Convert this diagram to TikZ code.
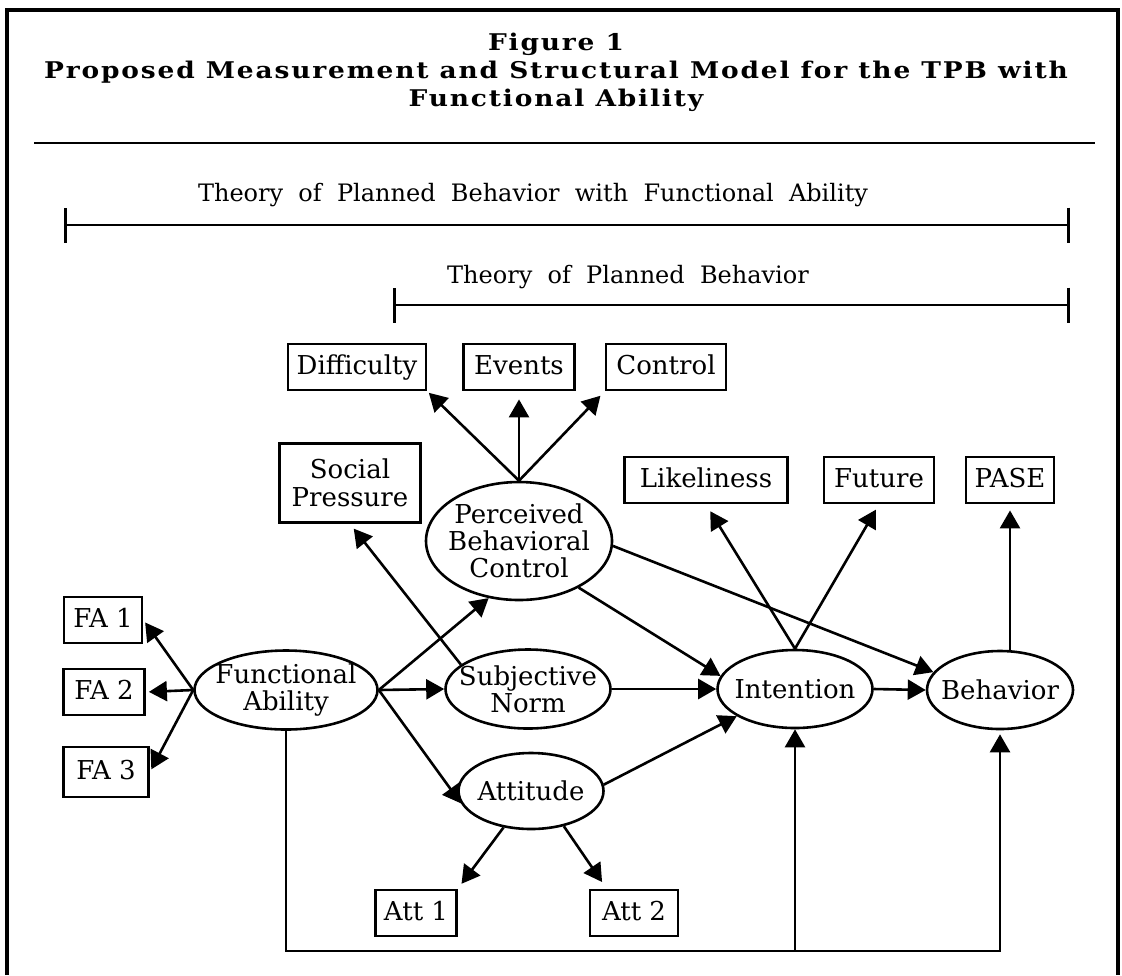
\documentclass[tikz,border=0pt]{standalone}
\usepackage{fontspec}
\setmainfont{DejaVu Serif}
\newfontfamily\titlefont[LetterSpace=8,FakeStretch=1.15]{DejaVu Serif}
\newfontfamily\spanfont[WordSpace=2]{DejaVu Serif}
\usetikzlibrary{arrows.meta,shapes.geometric}
\begin{document}
\begin{tikzpicture}[x=0.5pt,y=-0.5pt,
    latent/.style={draw,ellipse,line width=1.3pt,inner xsep=-6pt,inner ysep=-4pt,align=center,
      font=\fontsize{13}{13.5}\selectfont},
    indicator/.style={draw,rectangle,line width=1.4pt,minimum height=23pt,inner sep=0pt,
      text height=9.5pt,text depth=2.5pt,align=center,font=\fontsize{13}{14}\selectfont},
    link/.style={-{Triangle[length=9pt,width=10pt]},line width=1.3pt},
    span/.style={{Bar[width=17.5pt]}-{Bar[width=17.5pt]},line width=1.3pt}]
  \useasboundingbox (0,0) rectangle (1122,975);
  \draw[line width=2.2pt] (7,975) |- (1118,10) -- (1118,975);
  \node[font=\titlefont\bfseries\fontsize{11.5}{14}\selectfont,align=center] (title) at (556,72)
    {Figure 1\\Proposed Measurement and Structural Model for the TPB with\\Functional Ability};
  \coordinate (ruleL) at (34,143);
  \coordinate (ruleR) at (1095,143);
  \draw[line width=1.4pt] (ruleL) -- (ruleR);
  % spans
  \node[font=\spanfont\fontsize{12}{13.5}\selectfont] (fulltxt) at (533,195) {Theory of Planned Behavior with Functional Ability};
  \coordinate (fullL) at (64,225);
  \coordinate (fullR) at (1070,225);
  \draw[span] (fullL) -- (fullR);
  \node[font=\spanfont\fontsize{12}{13.5}\selectfont] (tpbtxt) at (628,277) {Theory of Planned Behavior};
  \coordinate (tpbL) at (393,305);
  \coordinate (tpbR) at (1070,305);
  \draw[span] (tpbL) -- (tpbR);
  % indicators
  \node[indicator,minimum width=69pt] (diff) at (357,367) {Difficulty};
  \node[indicator,minimum width=55.5pt] (evt) at (519,367) {Events};
  \node[indicator,minimum width=60pt] (ctl) at (666,367) {Control};
  \node[indicator,minimum width=70.5pt,minimum height=39.5pt,text height=,text depth=] (sp) at (350,483) {Social\\Pressure};
  \node[indicator,minimum width=81.5pt] (lik) at (706,480) {Likeliness};
  \node[indicator,minimum width=55pt] (fut) at (879,480) {Future};
  \node[indicator,minimum width=44pt] (pase) at (1010,480) {PASE};
  \node[indicator,minimum width=39pt] (fa1) at (103,620) {FA 1};
  \node[indicator,minimum width=40.5pt] (fa2) at (104,692) {FA 2};
  \node[indicator,minimum width=42.5pt,minimum height=25pt] (fa3) at (106,772) {FA 3};
  \node[indicator,minimum width=40.5pt] (att1) at (416,913) {Att 1};
  \node[indicator,minimum width=44pt] (att2) at (634,913) {Att 2};
  % latent variables
  \node[latent,minimum width=93pt,minimum height=59pt] (pbc) at (519,541) {Perceived\\Behavioral\\Control};
  \node[latent,minimum width=91.5pt,minimum height=39.5pt] (fa) at (286,690) {Functional\\Ability};
  \node[latent,minimum width=82.5pt,minimum height=39.5pt] (sn) at (528,689) {Subjective\\Norm};
  \node[latent,minimum width=77.5pt,minimum height=39pt] (int) at (795,689) {Intention};
  \node[latent,minimum width=73pt,minimum height=39pt] (beh) at (1000,690) {Behavior};
  \node[latent,minimum width=72.5pt,minimum height=38pt] (att) at (531,791) {Attitude};
  % paths
  \draw[link,shorten >=1.5pt] (fa.west) -- (fa1.east);
  \draw[link,shorten >=1.5pt] (fa.west) -- (fa2.east);
  \draw[link,shorten >=1.5pt] (fa.west) -- (fa3.east);
  \draw[link] (fa.east) -- (pbc.242);
  \draw[link] (fa.east) -- (sn.west);
  \draw[link] (fa.east) -- (att.190);
  \draw[link,shorten >=3pt] (sn.160) -- (sp.south);
  \draw[link,shorten >=1pt] (pbc.north) -- (diff.south east);
  \draw[link,shorten >=4pt] (pbc.north) -- (evt.south);
  \draw[link,shorten >=3pt] (pbc.north) -- (ctl.south west);
  \draw[link] (pbc.-38) -- (int.170);
  \draw[link] (pbc.-3) -- (beh.165);
  \draw[link] (sn.east) -- (int.west);
  \draw[link] (att.5) -- (int.205);
  \draw[link,shorten >=3pt] (att.233) -- (att1.north east);
  \draw[link,shorten >=4pt] (att.313) -- ([xshift=9pt]att2.north west);
  \draw[link,shorten >=4pt] (int.north) -- (lik.south);
  \draw[link,shorten >=3pt] (int.north) -- (fut.south);
  \draw[link,shorten >=3pt] (beh.north -| pase.south) -- (pase.south);
  \draw[link] (int.east) -- (beh.west);
  \coordinate (base) at (0,951);
  \draw[link,shorten >=2pt] (fa.south) |- (base -| beh.south) -- (beh.south);
  \draw[link] (base -| int.south) -- (int.south);
\end{tikzpicture}
\end{document}
